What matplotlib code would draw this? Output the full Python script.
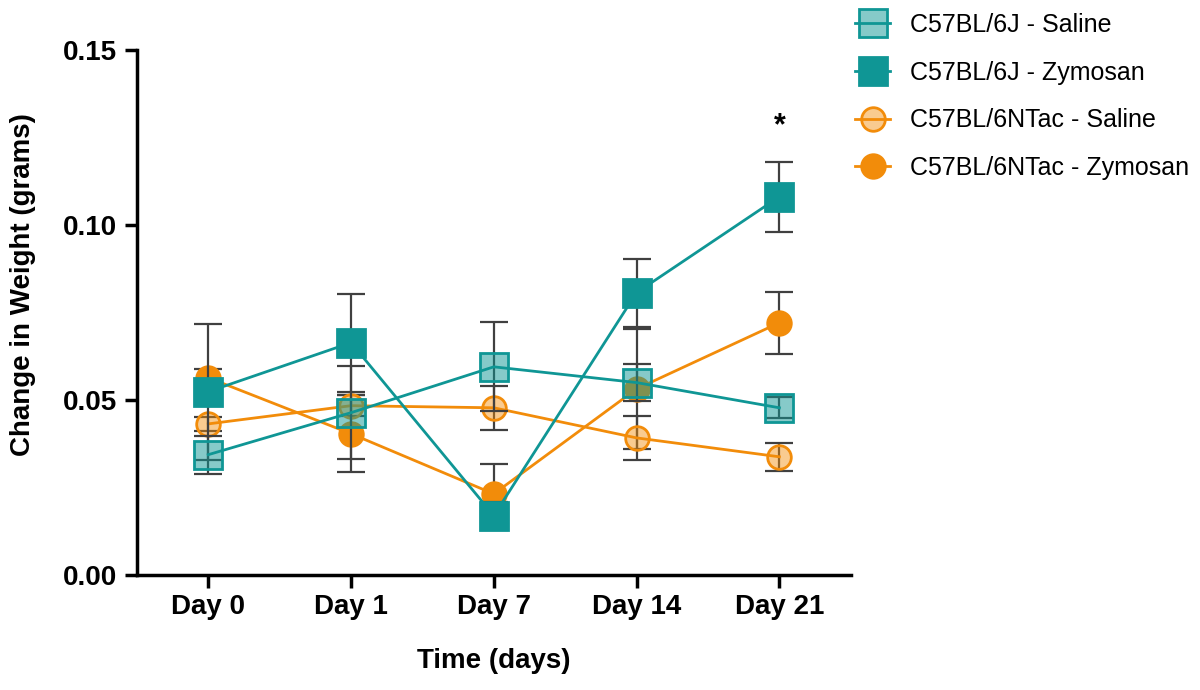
import matplotlib
matplotlib.use("Agg")
import matplotlib.pyplot as plt
from matplotlib.lines import Line2D

plt.rcParams['font.family'] = ['Liberation Sans', 'DejaVu Sans']

days = ["Day 0", "Day 1", "Day 7", "Day 14", "Day 21"]

# mean change in weight (grams) and error
sal_6j = [0.0343, 0.0463, 0.0594, 0.0549, 0.0477]
sal_6j_err = [0.0054, 0.0132, 0.0127, 0.0054, 0.0030]
zym_6j = [0.0523, 0.0663, 0.0169, 0.0806, 0.1080]
zym_6j_err = [0.0194, 0.0140, 0.0040, 0.0097, 0.0100]
sal_ntac = [0.0431, 0.0483, 0.0477, 0.0391, 0.0337]
sal_ntac_err = [0.0020, 0.0030, 0.0063, 0.0063, 0.0040]
zym_ntac = [0.0563, 0.0403, 0.0231, 0.0531, 0.0720]
zym_ntac_err = [0.0026, 0.0110, 0.0086, 0.0171, 0.0089]

labels = ["C57BL/6J - Saline", "C57BL/6J - Zymosan",
          "C57BL/6NTac - Saline", "C57BL/6NTac - Zymosan"]

teal = "#0f9695"
teal_light = (0.06, 0.59, 0.58, 0.5)
orange = "#f28c0a"
orange_light = (0.95, 0.55, 0.04, 0.45)
errc = "#404040"

fig = plt.figure(figsize=(12, 6.9), dpi=100)
ax = fig.add_axes([0.114, 0.167, 0.595, 0.761])

x = list(range(len(days)))

series = [
    (zym_ntac, zym_ntac_err, orange, orange, "o", 17),
    (sal_ntac, sal_ntac_err, orange, orange_light, "o", 17),
    (zym_6j, zym_6j_err, teal, teal, "s", 20),
    (sal_6j, sal_6j_err, teal, teal_light, "s", 20),
]
for i, (y, e, c, fc, m, ms) in enumerate(series):
    ax.errorbar(x, y, yerr=e, fmt="none", ecolor=errc, elinewidth=1.6,
                capsize=10, capthick=1.6, zorder=2 + i * 2)
    ax.plot(x, y, color=c, lw=2, marker=m, markersize=ms,
            markerfacecolor=fc, markeredgecolor=c, markeredgewidth=2,
            zorder=3 + i * 2)

ax.text(4, 0.128, "*", ha="center", va="center", fontsize=22,
        fontweight="bold")

ax.set_xlim(-0.5, 4.5)
ax.set_ylim(0, 0.15)
ax.set_yticks([0, 0.05, 0.10, 0.15])
ax.set_yticklabels(["0.00", "0.05", "0.10", "0.15"])
ax.set_xticks(x)
ax.set_xticklabels(days)
for s in ["top", "right"]:
    ax.spines[s].set_visible(False)
for s in ["left", "bottom"]:
    ax.spines[s].set_linewidth(2.5)
ax.tick_params(width=2.5, length=9, labelsize=20, pad=5)
for t in ax.get_xticklabels() + ax.get_yticklabels():
    t.set_fontweight("bold")
ax.set_xlabel("Time (days)", fontsize=20, fontweight="bold")
ax.set_ylabel("Change in Weight (grams)", fontsize=20, fontweight="bold")
ax.xaxis.set_label_coords(0.5, -0.14)
ax.yaxis.set_label_coords(-0.141, 0.552)

handles = [
    Line2D([], [], color=teal, lw=2, marker="s", markersize=20,
           markerfacecolor=teal_light, markeredgecolor=teal, markeredgewidth=2),
    Line2D([], [], color=teal, lw=2, marker="s", markersize=20,
           markerfacecolor=teal, markeredgecolor=teal, markeredgewidth=2),
    Line2D([], [], color=orange, lw=2, marker="o", markersize=17,
           markerfacecolor=orange_light, markeredgecolor=orange,
           markeredgewidth=2),
    Line2D([], [], color=orange, lw=2, marker="o", markersize=17,
           markerfacecolor=orange, markeredgecolor=orange, markeredgewidth=2),
]
fig.legend(handles, labels, loc="upper left", bbox_to_anchor=(0.694, 1.014),
           frameon=False, fontsize=18, handlelength=1.4, handletextpad=0.8,
           labelspacing=0.95)

fig.savefig("out.png", dpi=100)
